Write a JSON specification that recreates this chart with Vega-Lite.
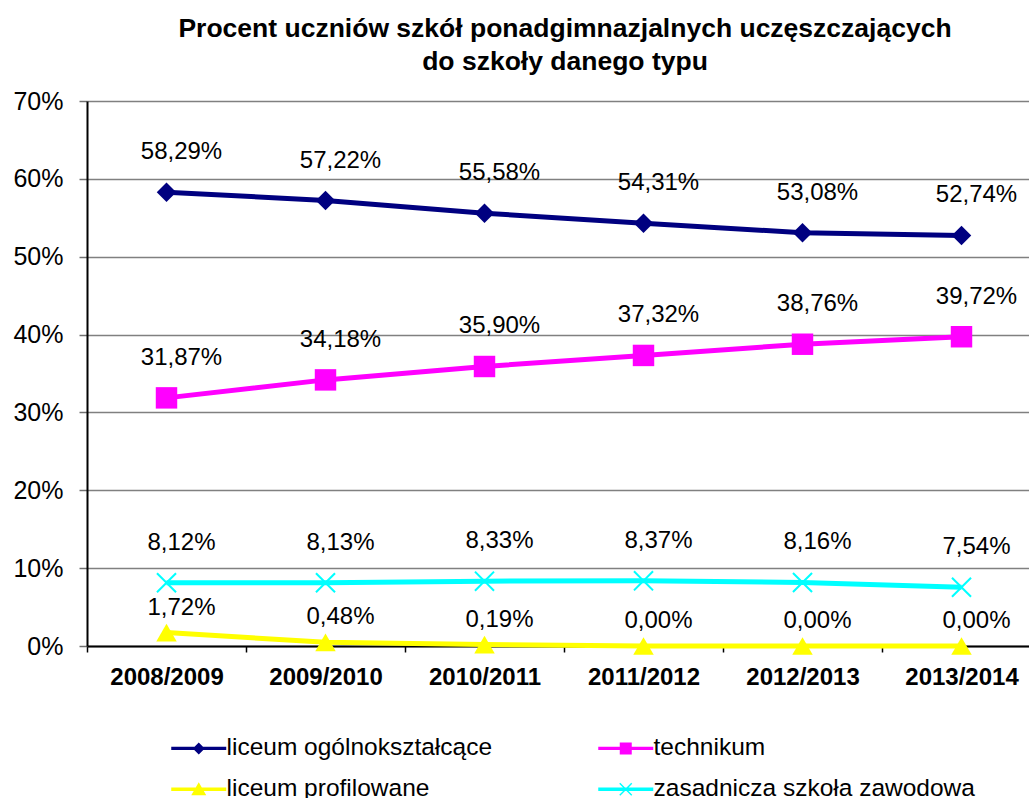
{
  "$schema": "https://vega.github.io/schema/vega-lite/v6.json",
  "width": 942,
  "height": 545,
  "autosize": {"type": "none"},
  "padding": {"left": 87, "top": 101, "right": 0, "bottom": 152},
  "background": "white",
  "config": {
    "view": {"stroke": null},
    "font": "Liberation Sans",
    "locale": {"number": {"decimal": ",", "thousands": " ", "grouping": [3], "currency": ["", " zł"]}}
  },
  "title": {
    "text": ["Procent uczniów szkół ponadgimnazjalnych uczęszczających", "do szkoły danego typu"],
    "font": "Liberation Sans",
    "fontSize": 26.5,
    "fontWeight": "bold",
    "color": "black",
    "anchor": "middle",
    "lineHeight": 33,
    "offset": 14,
    "dx": 7
  },
  "data": {
    "values": [
      {"rok": "2008/2009", "typ": "liceum ogólnokształcące", "v": 0.5829},
      {"rok": "2009/2010", "typ": "liceum ogólnokształcące", "v": 0.5722},
      {"rok": "2010/2011", "typ": "liceum ogólnokształcące", "v": 0.5558},
      {"rok": "2011/2012", "typ": "liceum ogólnokształcące", "v": 0.5431},
      {"rok": "2012/2013", "typ": "liceum ogólnokształcące", "v": 0.5308},
      {"rok": "2013/2014", "typ": "liceum ogólnokształcące", "v": 0.5274},
      {"rok": "2008/2009", "typ": "technikum", "v": 0.3187},
      {"rok": "2009/2010", "typ": "technikum", "v": 0.3418},
      {"rok": "2010/2011", "typ": "technikum", "v": 0.3590},
      {"rok": "2011/2012", "typ": "technikum", "v": 0.3732},
      {"rok": "2012/2013", "typ": "technikum", "v": 0.3876},
      {"rok": "2013/2014", "typ": "technikum", "v": 0.3972},
      {"rok": "2008/2009", "typ": "liceum profilowane", "v": 0.0172},
      {"rok": "2009/2010", "typ": "liceum profilowane", "v": 0.0048},
      {"rok": "2010/2011", "typ": "liceum profilowane", "v": 0.0019},
      {"rok": "2011/2012", "typ": "liceum profilowane", "v": 0.0},
      {"rok": "2012/2013", "typ": "liceum profilowane", "v": 0.0},
      {"rok": "2013/2014", "typ": "liceum profilowane", "v": 0.0},
      {"rok": "2008/2009", "typ": "zasadnicza szkoła zawodowa", "v": 0.0812},
      {"rok": "2009/2010", "typ": "zasadnicza szkoła zawodowa", "v": 0.0813},
      {"rok": "2010/2011", "typ": "zasadnicza szkoła zawodowa", "v": 0.0833},
      {"rok": "2011/2012", "typ": "zasadnicza szkoła zawodowa", "v": 0.0837},
      {"rok": "2012/2013", "typ": "zasadnicza szkoła zawodowa", "v": 0.0816},
      {"rok": "2013/2014", "typ": "zasadnicza szkoła zawodowa", "v": 0.0754}
    ]
  },
  "encoding": {
    "x": {
      "field": "rok",
      "type": "nominal",
      "sort": null,
      "scale": {"type": "band", "paddingInner": 0, "paddingOuter": 0, "rangeMax": 954},
      "axis": {
        "title": null,
        "labelAngle": 0,
        "labelFont": "Liberation Sans",
        "labelFontSize": 24,
        "labelFontWeight": "bold",
        "labelColor": "black",
        "labelPadding": 13,
        "tickBand": "extent",
        "tickSize": 6,
        "tickColor": "black",
        "tickWidth": 1.5,
        "domainColor": "black",
        "domainWidth": 2,
        "grid": false
      }
    },
    "y": {
      "field": "v",
      "type": "quantitative",
      "scale": {"domain": [0, 0.7], "nice": false},
      "axis": {
        "title": null,
        "values": [0, 0.1, 0.2, 0.3, 0.4, 0.5, 0.6, 0.7],
        "format": ".0%",
        "labelFont": "Liberation Sans",
        "labelFontSize": 25,
        "labelColor": "black",
        "labelPadding": 16,
        "tickSize": 8,
        "tickColor": "#707070",
        "tickWidth": 1.5,
        "domainColor": "black",
        "domainWidth": 2,
        "grid": true,
        "gridColor": "#808080",
        "gridWidth": 1.6
      }
    }
  },
  "layer": [
    {
      "mark": {"type": "line", "strokeWidth": 5},
      "encoding": {
        "color": {
          "field": "typ",
          "type": "nominal",
          "scale": {
            "domain": ["liceum ogólnokształcące", "technikum", "liceum profilowane", "zasadnicza szkoła zawodowa"],
            "range": ["#000080", "#FF00FF", "#FFFF00", "#00FFFF"]
          },
          "legend": {
            "title": null,
            "orient": "none",
            "legendX": 82,
            "legendY": 635,
            "direction": "horizontal",
            "columns": 2,
            "columnPadding": 103,
            "rowPadding": 16,
            "labelFont": "Liberation Sans",
            "labelFontSize": 24.5,
            "labelColor": "black",
            "labelOffset": 33,
            "symbolSize": 400,
            "symbolStrokeWidth": 0,
            "labelLimit": 500,
            "encode": {
              "symbols": {
                "update": {
                  "shape": {"signal": "datum.value === 'liceum ogólnokształcące' ? 'M-1,-0.17L4.5,-0.17L4.5,0.17L-1,0.17Z M1.15,0L1.75,-0.6L2.35,0L1.75,0.6Z' : datum.value === 'technikum' ? 'M-1,-0.17L4.5,-0.17L4.5,0.17L-1,0.17Z M1.15,-0.6L2.35,-0.6L2.35,0.6L1.15,0.6Z' : datum.value === 'liceum profilowane' ? 'M-1,-0.17L4.5,-0.17L4.5,0.17L-1,0.17Z M1.75,-0.7L2.5,0.6L1.0,0.6Z' : 'M-1,-0.17L4.5,-0.17L4.5,0.17L-1,0.17Z M1.1,-0.55L1.2,-0.65L1.75,-0.1L2.3,-0.65L2.4,-0.55L1.85,0L2.4,0.55L2.3,0.65L1.75,0.1L1.2,0.65L1.1,0.55L1.65,0Z'"},
                  "fill": {"signal": "scale('color', datum.value)"},
                  "stroke": {"value": "transparent"},
                  "strokeWidth": {"value": 0},
                  "opacity": {"value": 1}
                }
              }
            }
          }
        }
      }
    },
    {
      "transform": [{"filter": "datum.typ === 'liceum ogólnokształcące'"}],
      "mark": {"type": "point", "filled": true, "size": 380, "opacity": 1, "shape": "diamond", "color": "#000080"},
      "encoding": {}
    },
    {
      "transform": [{"filter": "datum.typ === 'technikum'"}],
      "mark": {"type": "point", "filled": true, "size": 460, "opacity": 1, "shape": "square", "color": "#FF00FF"},
      "encoding": {}
    },
    {
      "transform": [{"filter": "datum.typ === 'liceum profilowane'"}],
      "mark": {"type": "point", "filled": true, "size": 420, "opacity": 1, "shape": "triangle-up", "color": "#FFFF00"},
      "encoding": {}
    },
    {
      "transform": [{"filter": "datum.typ === 'zasadnicza szkoła zawodowa'"}],
      "mark": {"type": "point", "filled": true, "size": 420, "opacity": 1, "shape": "M-1,-0.86L-0.86,-1L0,-0.14L0.86,-1L1,-0.86L0.14,0L1,0.86L0.86,1L0,0.14L-0.86,1L-1,0.86L-0.14,0Z", "color": "#00FFFF"},
      "encoding": {}
    },
    {
      "transform": [{"filter": "datum.typ !== 'liceum profilowane'"}],
      "mark": {"type": "text", "font": "Liberation Sans", "fontSize": 24, "color": "black", "dx": 15, "dy": -40, "baseline": "middle"},
      "encoding": {
        "text": {"field": "v", "type": "quantitative", "format": ".2%"}
      }
    },
    {
      "transform": [{"filter": "datum.typ === 'liceum profilowane'"}],
      "mark": {"type": "text", "font": "Liberation Sans", "fontSize": 24, "color": "black", "dx": 15, "dy": -25, "baseline": "middle"},
      "encoding": {
        "text": {"field": "v", "type": "quantitative", "format": ".2%"}
      }
    }
  ]
}
